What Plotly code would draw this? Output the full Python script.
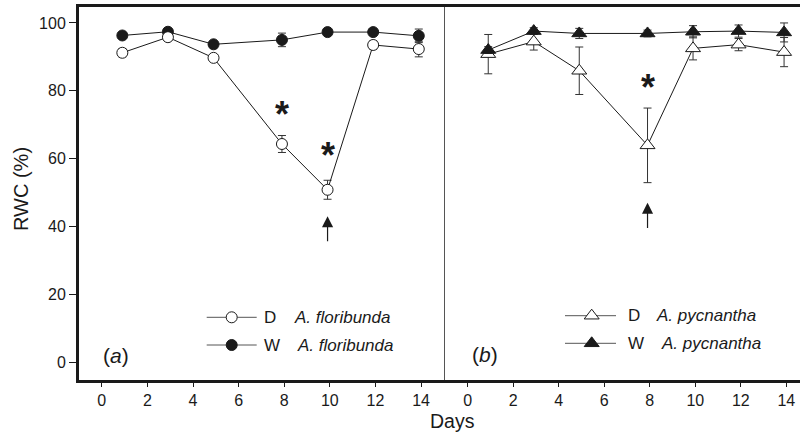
import plotly.graph_objects as go

# ---------------- data ----------------
days = [0.9, 2.9, 4.9, 7.9, 9.9, 11.9, 13.9]

flor_D = [91.2, 95.8, 89.7, 64.3, 50.8, 93.5, 92.3]
flor_D_err = [1.2, 1.0, 0.8, 2.5, 2.8, 1.2, 2.3]
flor_W = [96.3, 97.4, 93.7, 95.0, 97.3, 97.3, 96.2]
flor_W_err = [0.8, 1.0, 0.8, 2.0, 0.7, 0.8, 2.0]

pyc_D = [90.8, 94.5, 85.9, 63.9, 92.5, 93.6, 91.4]
pyc_D_err = [5.8, 2.5, 7.0, 11.0, 3.4, 1.8, 4.3]
pyc_W = [92.0, 97.6, 96.9, 96.9, 97.4, 97.6, 97.2]
pyc_W_err = [1.0, 1.0, 1.5, 1.0, 1.8, 1.8, 2.8]

x_ticks = [0, 2, 4, 6, 8, 10, 12, 14]
y_ticks = [0, 20, 40, 60, 80, 100]

# significance marks (day, y)
star_a = [(7.9, 74.8), (9.9, 62.8)]
star_b = [(7.9, 82.7)]
# arrows (day, tail y, head y)
arrow_a = (9.9, 35.2, 43.0)
arrow_b = (7.9, 39.1, 47.0)

FONT = "Liberation Sans, Arial, sans-serif"
INK = "#1a1a1a"

fig = go.Figure()

def series(x, y, err, symbol, fill, xa, ya, size):
    fig.add_trace(go.Scatter(
        x=x, y=y, xaxis=xa, yaxis=ya, mode="lines+markers",
        line=dict(color=INK, width=1),
        marker=dict(symbol=symbol, size=size, color=fill,
                    line=dict(color=INK, width=1)),
        error_y=dict(type="data", array=err, color="#333", thickness=1, width=4),
        showlegend=False, cliponaxis=False))

series(days, flor_W, flor_W_err, "circle", INK, "x", "y", 11)
series(days, flor_D, flor_D_err, "circle", "white", "x", "y", 11)
series(days, pyc_D, pyc_D_err, "triangle-up", "white", "x2", "y2", 13)
series(days, pyc_W, pyc_W_err, "triangle-up", INK, "x2", "y2", 13)

# ---------- legend keys (overlay axis in pixel units) ----------
leg_rows = [
    (206.7, 256.7, 231.7, 317.3, "circle", "white", "D", 261.7, 291.7, "A. floribunda", 11),
    (206.7, 256.7, 231.7, 345.0, "circle", INK, "W", 261.7, 295.0, "A. floribunda", 11),
    (565.0, 616.0, 591.7, 315.7, "triangle-up", "white", "D", 626.0, 654.0, "A. pycnantha", 13),
    (565.0, 616.0, 591.7, 343.3, "triangle-up", INK, "W", 626.0, 658.7, "A. pycnantha", 13),
]
annotations = []
for x0, x1, xm, yy, sym, fill, lab, xl, xn, nm, sz in leg_rows:
    fig.add_trace(go.Scatter(
        x=[x0, xm, x1], y=[yy, yy, yy], xaxis="x3", yaxis="y3",
        mode="lines", line=dict(color="#555", width=1),
        showlegend=False, hoverinfo="skip", cliponaxis=False))
    fig.add_trace(go.Scatter(
        x=[xm], y=[yy], xaxis="x3", yaxis="y3", mode="markers",
        marker=dict(symbol=sym, size=sz, color=fill, line=dict(color=INK, width=1)),
        showlegend=False, hoverinfo="skip", cliponaxis=False))
    annotations.append(dict(x=xl, y=yy, xref="x3", yref="y3", text=lab,
                            showarrow=False, xanchor="left", yanchor="middle",
                            font=dict(family=FONT, size=17, color=INK)))
    annotations.append(dict(x=xn, y=yy, xref="x3", yref="y3", text=f"<i>{nm}</i>",
                            showarrow=False, xanchor="left", yanchor="middle",
                            font=dict(family=FONT, size=17, color=INK)))

# panel labels
annotations.append(dict(x=101, y=355, xref="x3", yref="y3", text="(<i>a</i>)",
                        showarrow=False, xanchor="left", yanchor="middle",
                        font=dict(family=FONT, size=21, color=INK)))
annotations.append(dict(x=469.5, y=354, xref="x3", yref="y3", text="(<i>b</i>)",
                        showarrow=False, xanchor="left", yanchor="middle",
                        font=dict(family=FONT, size=21, color=INK)))

# asterisks
for (sx, sy) in star_a:
    annotations.append(dict(x=sx, y=sy, xref="x", yref="y", text="<b>*</b>",
                            showarrow=False, yshift=-6,
                            font=dict(family=FONT, size=36, color=INK)))
for (sx, sy) in star_b:
    annotations.append(dict(x=sx, y=sy, xref="x2", yref="y2", text="<b>*</b>",
                            showarrow=False, yshift=-6,
                            font=dict(family=FONT, size=36, color=INK)))

# arrows
for (ax_, tail, head), xr, yr in [(arrow_a, "x", "y"), (arrow_b, "x2", "y2")]:
    annotations.append(dict(x=ax_, y=head, ax=ax_, ay=tail, xref=xr, yref=yr,
                            axref=xr, ayref=yr, text="", showarrow=True,
                            arrowhead=2, arrowsize=1.85, arrowwidth=1.2,
                            arrowcolor=INK))

L, R, T, B = 79, 0, 7, 54
W_, H_ = 800, 434
PW, PH = W_ - L - R, H_ - T - B
split = (445 - L) / PW

# axis titles (paper coordinates)
annotations.append(dict(x=(452 - L) / PW, y=(H_ - B - 421) / PH, xref="paper", yref="paper",
                        text="Days", showarrow=False, xanchor="center", yanchor="middle",
                        font=dict(family=FONT, size=19.5, color=INK)))
annotations.append(dict(x=(21 - L) / PW, y=(H_ - B - 189) / PH, xref="paper", yref="paper",
                        text="RWC (%)", showarrow=False, textangle=-90,
                        xanchor="center", yanchor="middle",
                        font=dict(family=FONT, size=20, color=INK)))

tickfont = dict(family=FONT, size=16, color=INK)
xcommon = dict(tickvals=x_ticks, ticks="outside", ticklen=4, tickwidth=1, tickcolor=INK,
               showline=True, linewidth=3, linecolor=INK, mirror=True,
               showgrid=False, zeroline=False, tickfont=tickfont)
fig.update_layout(
    width=W_, height=H_, margin=dict(l=L, r=R, t=T, b=B),
    paper_bgcolor="white", plot_bgcolor="rgba(0,0,0,0)",
    font=dict(family=FONT, color=INK),
    xaxis=dict(domain=[0, split], range=[-1.0, 15.05], anchor="y", **xcommon),
    xaxis2=dict(domain=[split, 1], range=[-1.0, 14.6], anchor="y2", **xcommon),
    yaxis=dict(domain=[0, 1], range=[-5.3, 104.7], anchor="x", tickvals=y_ticks,
               ticks="outside", ticklen=7, tickwidth=1, tickcolor=INK,
               showline=True, linewidth=3, linecolor=INK,
               showgrid=False, zeroline=False, tickfont=tickfont),
    yaxis2=dict(domain=[0, 1], range=[-5.3, 104.7], anchor="x2",
                showticklabels=False, ticks="", showline=True, linewidth=1,
                linecolor="#555", showgrid=False, zeroline=False),
    xaxis3=dict(domain=[0, 1], range=[L, W_ - R], anchor="y3", visible=False, fixedrange=True),
    yaxis3=dict(domain=[0, 1], range=[H_ - B, T], anchor="x3", visible=False, fixedrange=True),
    annotations=annotations,
    showlegend=False,
)

fig.write_html("out.html", config={"displayModeBar": False},
               post_script="document.body.style.margin='0';document.body.style.overflow='hidden';")
